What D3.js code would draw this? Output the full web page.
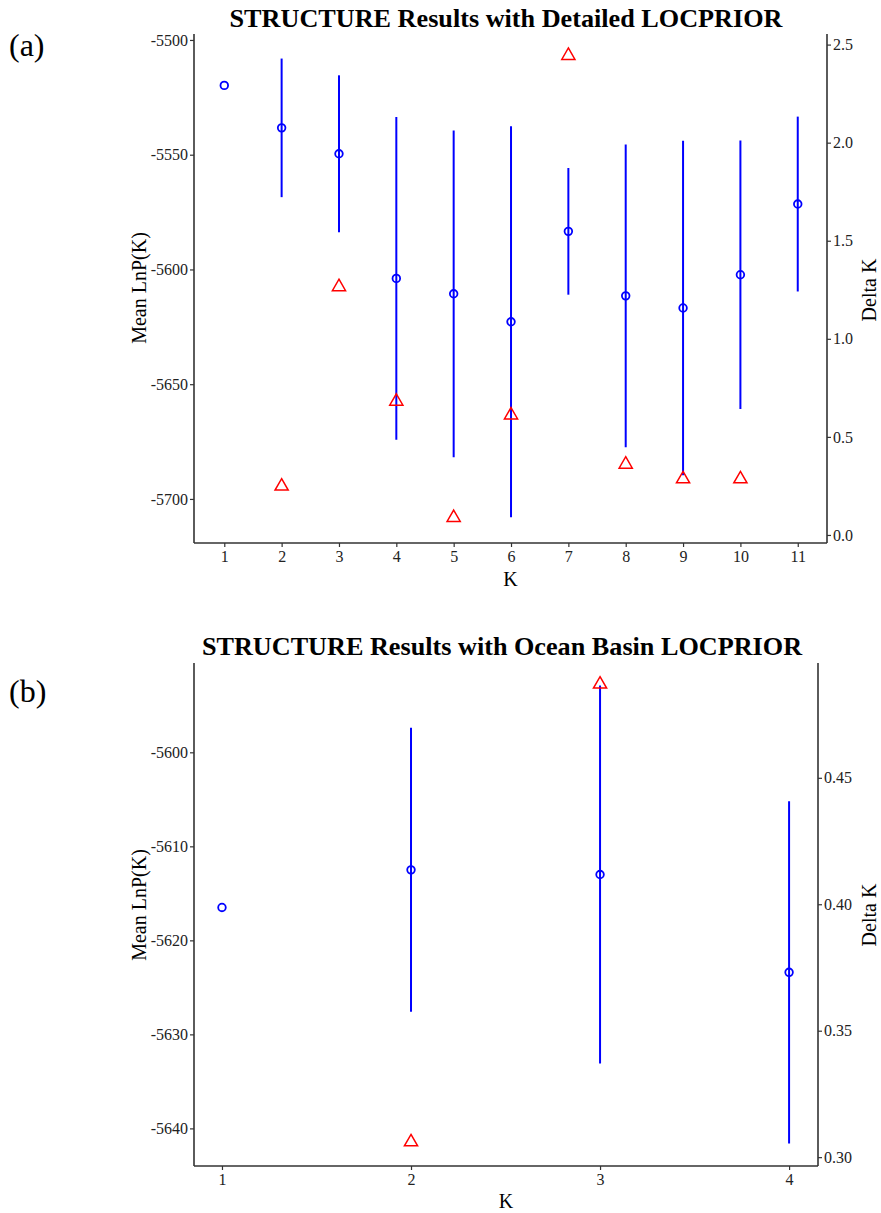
<!DOCTYPE html>
<html>
<head>
<meta charset="utf-8">
<script src="https://cdn.jsdelivr.net/npm/d3@7/dist/d3.min.js"></script>
<style>
  html, body { margin: 0; padding: 0; background: #fff; }
  svg { display: block; }
  text { font-family: "Liberation Serif", "DejaVu Serif", serif; }
</style>
</head>
<body>
<script>
// ---------- Data ----------
// Panel (a): Detailed LOCPRIOR
const kA = [1, 2, 3, 4, 5, 6, 7, 8, 9, 10, 11];
const meanLnPA = [-5519.8, -5538.3, -5549.6, -5603.9, -5610.6, -5622.8, -5583.4, -5611.5, -5616.8, -5602.3, -5571.5];
const sdLnPA   = [0, 30.2, 34.2, 70.3, 71.2, 85.2, 27.6, 66.0, 72.9, 58.5, 38.1];
const deltaKA  = [null, 0.248, 1.265, 0.681, 0.088, 0.611, 2.444, 0.360, 0.285, 0.285, null];
const leftTicksA  = [-5700, -5650, -5600, -5550, -5500];
const rightTicksA = [0, 0.5, 1.0, 1.5, 2.0, 2.5];

// Panel (b): Ocean Basin LOCPRIOR
const kB = [1, 2, 3, 4];
const meanLnPB = [-5616.5, -5612.5, -5613.0, -5623.4];
const sdLnPB   = [0, 15.1, 20.1, 18.2];
const deltaKB  = [null, 0.306, 0.487, null];
const leftTicksB  = [-5640, -5630, -5620, -5610, -5600];
const rightTicksB = [0.30, 0.35, 0.40, 0.45];

const titles = ["STRUCTURE Results with Detailed LOCPRIOR", "STRUCTURE Results with Ocean Basin LOCPRIOR"];
const panelLabels = ["(a)", "(b)"];

// ---------- Drawing ----------
const W = 881, H = 1213;
const svg = d3.select("body").append("svg").attr("width", W).attr("height", H)
  .style("background", "#fff");

const AXIS_COL = "#333";
const TICK_COL = "#222";
const BLUE = "#0000ff";
const RED = "#ff0000";
const hy = f => (d => f(d).replace("\u2212", "-"));

function panel(cfg) {
  const g = svg.append("g");
  const x = d3.scaleLinear().domain(cfg.xDomain).range([cfg.left, cfg.right]);
  const yL = d3.scaleLinear().domain(cfg.yLDomain).range([cfg.bottom, cfg.top]);
  const yR = d3.scaleLinear().domain(cfg.yRDomain).range([cfg.bottom, cfg.top]);

  const ax = d3.axisBottom(x).tickValues(cfg.k).tickFormat(d3.format("d")).tickSizeOuter(0).tickSize(4).tickPadding(4);
  const ayl = d3.axisLeft(yL).tickValues(cfg.leftTicks).tickFormat(hy(d3.format("d"))).tickSizeOuter(0).tickSize(4).tickPadding(2);
  const ayr = d3.axisRight(yR).tickValues(cfg.rightTicks).tickFormat(hy(d3.format(cfg.rightFmt))).tickSizeOuter(0).tickSize(4).tickPadding(2);

  const gx = g.append("g").attr("transform", `translate(0,${cfg.bottom})`).call(ax);
  const gl = g.append("g").attr("transform", `translate(${cfg.left},0)`).call(ayl);
  const gr = g.append("g").attr("transform", `translate(${cfg.right},0)`).call(ayr);
  [gx, gl, gr].forEach(a => {
    a.select(".domain").attr("stroke", AXIS_COL).attr("stroke-width", 1.6);
    a.selectAll(".tick line").attr("stroke", AXIS_COL).attr("stroke-width", 1.2);
    a.selectAll(".tick text").attr("fill", TICK_COL)
      .style("font-family", '"Liberation Serif", serif').style("font-size", "16px");
  });
  gl.select(".domain").attr("d", `M0,${cfg.top}V${cfg.bottom}`);
  gr.select(".domain").attr("d", `M0,${cfg.top}V${cfg.bottom}`);
  gx.select(".domain").attr("d", `M${cfg.left},0H${cfg.right}`);

  const idx = d3.range(cfg.k.length);
  g.append("g").selectAll("line").data(idx.filter(i => cfg.sd[i] > 0)).join("line")
    .attr("x1", i => x(cfg.k[i])).attr("x2", i => x(cfg.k[i]))
    .attr("y1", i => yL(cfg.mean[i] + cfg.sd[i]))
    .attr("y2", i => yL(cfg.mean[i] - cfg.sd[i]))
    .attr("stroke", BLUE).attr("stroke-width", 2);

  g.append("g").selectAll("circle").data(idx).join("circle")
    .attr("cx", i => x(cfg.k[i])).attr("cy", i => yL(cfg.mean[i]))
    .attr("r", 3.8).attr("fill", "none").attr("stroke", BLUE).attr("stroke-width", 1.8);

  const tri = d3.symbol().type(d3.symbolTriangle).size(75);
  g.append("g").selectAll("path").data(idx.filter(i => cfg.delta[i] != null)).join("path")
    .attr("d", tri)
    .attr("transform", i => `translate(${x(cfg.k[i])},${yR(cfg.delta[i])})`)
    .attr("fill", "none").attr("stroke", RED).attr("stroke-width", 1.5);

  g.append("text").attr("x", cfg.titleX).attr("y", cfg.titleY).attr("text-anchor", "middle")
    .style("font-size", "26.2px").style("font-weight", "bold").attr("fill", "#000").text(cfg.title);
  g.append("text").attr("x", 9).attr("y", cfg.labelY)
    .style("font-size", "32px").attr("fill", "#000").text(cfg.label);
  g.append("text").attr("x", (cfg.left + cfg.right) / 2).attr("y", cfg.xTitleY).attr("text-anchor", "middle")
    .style("font-size", "20px").attr("fill", "#000").text("K");
  g.append("text").attr("transform", `translate(${cfg.yTitleLX},${cfg.yTitleLY}) rotate(-90)`)
    .attr("text-anchor", "middle").style("font-size", "20px").attr("fill", "#000").text("Mean LnP(K)");
  g.append("text").attr("transform", `translate(${cfg.yTitleRX},${cfg.yTitleRY}) rotate(-90)`)
    .attr("text-anchor", "middle").style("font-size", "20px").attr("fill", "#000").text("Delta K");
}

panel({
  k: kA, mean: meanLnPA, sd: sdLnPA, delta: deltaKA,
  leftTicks: leftTicksA, rightTicks: rightTicksA, rightFmt: ".1f",
  left: 194, right: 827, top: 34, bottom: 543,
  xDomain: [0.472, 11.51], yLDomain: [-5719.2, -5497.4], yRDomain: [-0.041, 2.554],
  title: titles[0], titleX: 506, titleY: 27, label: panelLabels[0], labelY: 56,
  xTitleY: 586, yTitleLX: 146, yTitleLY: 288, yTitleRX: 876, yTitleRY: 290
});

panel({
  k: kB, mean: meanLnPB, sd: sdLnPB, delta: deltaKB,
  leftTicks: leftTicksB, rightTicks: rightTicksB, rightFmt: ".2f",
  left: 194, right: 818, top: 663, bottom: 1166,
  xDomain: [0.852, 4.153], yLDomain: [-5644.0, -5590.5], yRDomain: [0.2965, 0.4954],
  title: titles[1], titleX: 502, titleY: 655, label: panelLabels[1], labelY: 702,
  xTitleY: 1208, yTitleLX: 146, yTitleLY: 905, yTitleRX: 876, yTitleRY: 915
});
</script>
</body>
</html>
